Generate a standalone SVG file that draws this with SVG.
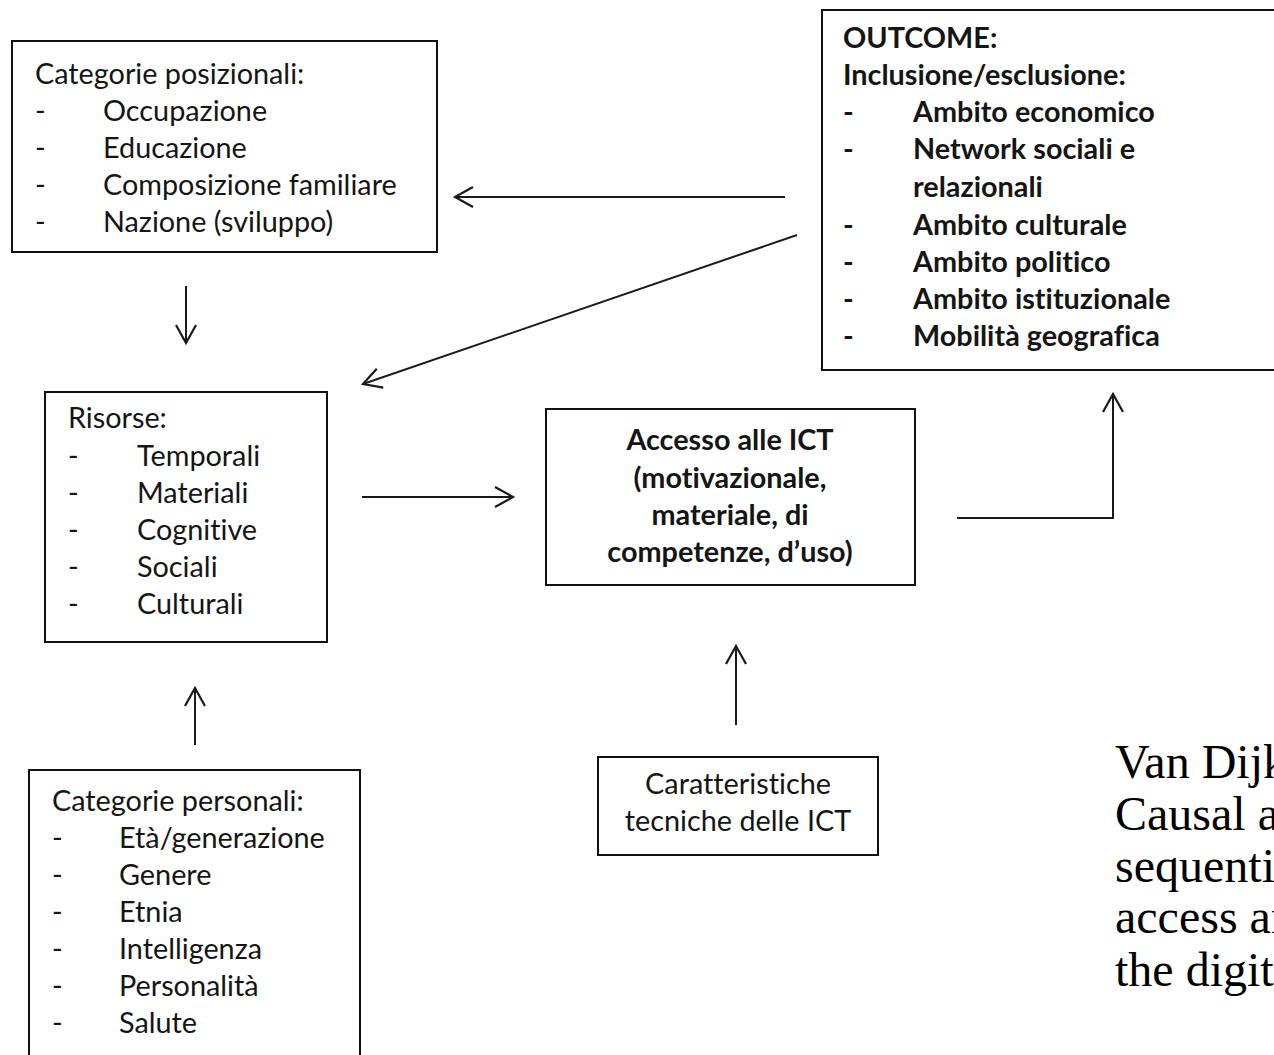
<svg xmlns="http://www.w3.org/2000/svg" width="1274" height="1055" viewBox="0 0 1274 1055">
<style>
.box{fill:#fff;stroke:#111;stroke-width:2}
.t{font-family:Lato,"Open Sans","Liberation Sans",sans-serif;font-size:28.8px;fill:#151515;font-variant-ligatures:none}
.b{font-weight:bold}
.c{text-anchor:middle}
.cap{font-family:"Liberation Serif","DejaVu Serif",serif;font-size:48px;fill:#000}
.con{fill:none;stroke:#1a1a1a;stroke-width:2}
</style>
<defs>
<marker id="ah" markerUnits="userSpaceOnUse" markerWidth="40" markerHeight="40" refX="0" refY="0" orient="auto" overflow="visible">
<path d="M-18,-10 L0,0 L-18,10" fill="none" stroke="#1a1a1a" stroke-width="2.2"/>
</marker>
</defs>
<rect width="1274" height="1055" fill="#fff"/>
<g id="connectors">
<line class="con" x1="785" y1="197" x2="455" y2="197" marker-end="url(#ah)"/>
<line class="con" x1="797" y1="235" x2="363" y2="384" marker-end="url(#ah)"/>
<line class="con" x1="186" y1="286" x2="186" y2="343" marker-end="url(#ah)"/>
<line class="con" x1="362" y1="497" x2="513" y2="497" marker-end="url(#ah)"/>
<polyline class="con" points="957,518 1113,518 1113,394" marker-end="url(#ah)"/>
<line class="con" x1="195" y1="745" x2="195" y2="688" marker-end="url(#ah)"/>
<line class="con" x1="736" y1="725" x2="736" y2="646" marker-end="url(#ah)"/>
</g>
<g id="categorie-posizionali">
<rect class="box" x="12" y="41" width="425" height="211"/>
<text class="t" x="35" y="84">Categorie posizionali:</text>
<text class="t" x="35" y="121">-</text><text class="t" x="103" y="121">Occupazione</text>
<text class="t" x="35" y="158">-</text><text class="t" x="103" y="158">Educazione</text>
<text class="t" x="35" y="195">-</text><text class="t" x="103" y="195">Composizione familiare</text>
<text class="t" x="35" y="232">-</text><text class="t" x="103" y="232">Nazione (sviluppo)</text>
</g>
<g id="outcome">
<rect class="box" x="822" y="10" width="470" height="360"/>
<text class="t b" x="843" y="48">OUTCOME:</text>
<text class="t b" x="843" y="85">Inclusione/esclusione:</text>
<text class="t b" x="843" y="122">-</text><text class="t b" x="913" y="122">Ambito economico</text>
<text class="t b" x="843" y="159">-</text><text class="t b" x="913" y="159">Network sociali e</text>
<text class="t b" x="913" y="197">relazionali</text>
<text class="t b" x="843" y="235">-</text><text class="t b" x="913" y="235">Ambito culturale</text>
<text class="t b" x="843" y="272">-</text><text class="t b" x="913" y="272">Ambito politico</text>
<text class="t b" x="843" y="309">-</text><text class="t b" x="913" y="309">Ambito istituzionale</text>
<text class="t b" x="843" y="346">-</text><text class="t b" x="913" y="346">Mobilità geografica</text>
</g>
<g id="risorse">
<rect class="box" x="45" y="392" width="282" height="250"/>
<text class="t" x="68" y="428">Risorse:</text>
<text class="t" x="68" y="466">-</text><text class="t" x="137" y="466">Temporali</text>
<text class="t" x="68" y="503">-</text><text class="t" x="137" y="503">Materiali</text>
<text class="t" x="68" y="540">-</text><text class="t" x="137" y="540">Cognitive</text>
<text class="t" x="68" y="577">-</text><text class="t" x="137" y="577">Sociali</text>
<text class="t" x="68" y="614">-</text><text class="t" x="137" y="614">Culturali</text>
</g>
<g id="accesso">
<rect class="box" x="546" y="409" width="369" height="176"/>
<text class="t b c" x="730" y="450">Accesso alle ICT</text>
<text class="t b c" x="730" y="488">(motivazionale,</text>
<text class="t b c" x="730" y="525">materiale, di</text>
<text class="t b c" x="730" y="562">competenze, d’uso)</text>
</g>
<g id="categorie-personali">
<rect class="box" x="29" y="770" width="331" height="300"/>
<text class="t" x="52" y="811">Categorie personali:</text>
<text class="t" x="52" y="848">-</text><text class="t" x="119" y="848">Età/generazione</text>
<text class="t" x="52" y="885">-</text><text class="t" x="119" y="885">Genere</text>
<text class="t" x="52" y="922">-</text><text class="t" x="119" y="922">Etnia</text>
<text class="t" x="52" y="959">-</text><text class="t" x="119" y="959">Intelligenza</text>
<text class="t" x="52" y="996">-</text><text class="t" x="119" y="996">Personalità</text>
<text class="t" x="52" y="1033">-</text><text class="t" x="119" y="1033">Salute</text>
</g>
<g id="caratteristiche">
<rect class="box" x="598" y="757" width="280" height="98"/>
<text class="t c" x="738" y="794">Caratteristiche</text>
<text class="t c" x="738" y="831">tecniche delle ICT</text>
</g>
<g id="caption">
<text class="cap" x="1115" y="778">Van Dijk</text>
<text class="cap" x="1115" y="830">Causal a</text>
<text class="cap" x="1115" y="882">sequenti</text>
<text class="cap" x="1115" y="933">access an</text>
<text class="cap" x="1115" y="986">the digit</text>
</g>
</svg>
